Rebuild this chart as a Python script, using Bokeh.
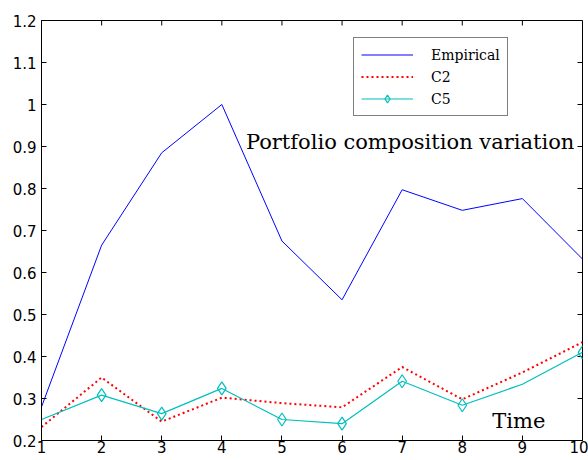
import math
from bokeh.plotting import figure
from bokeh.models import Legend, LegendItem, FixedTicker, Range1d
from bokeh.core.properties import value
from bokeh.embed import file_html
from bokeh.resources import INLINE

time = [1, 2, 3, 4, 5, 6, 7, 8, 9, 10]
empirical = [0.28, 0.665, 0.885, 1.0, 0.675, 0.535, 0.797, 0.748, 0.776, 0.632]
c2 = [0.232, 0.35, 0.245, 0.302, 0.289, 0.279, 0.375, 0.298, 0.362, 0.434]
c5 = [0.25, 0.308, 0.264, 0.324, 0.25, 0.240, 0.341, 0.284, 0.334, 0.41]
c5_marker_x = [2, 3, 4, 5, 6, 7, 8, 10]
x_ticks = [1, 2, 3, 4, 5, 6, 7, 8, 9, 10]
y_ticks = [0.2, 0.3, 0.4, 0.5, 0.6, 0.7, 0.8, 0.9, 1.0, 1.1, 1.2]
y_tick_labels = ["0.2", "0.3", "0.4", "0.5", "0.6", "0.7", "0.8", "0.9", "1", "1.1", "1.2"]
annotations = ["Portfolio composition variation", "Time"]
ann_x = [4.40, 8.5]
ann_y = [0.911, 0.247]

c5_marker_y = [c5[time.index(t)] for t in c5_marker_x]

p = figure(width=588, height=460, output_backend="svg", toolbar_location=None,
           x_range=Range1d(x_ticks[0], x_ticks[-1]), y_range=Range1d(y_ticks[0], y_ticks[-1]),
           min_border_left=41, min_border_right=6, min_border_top=20, min_border_bottom=20)
p.background_fill_color = "white"
p.border_fill_color = "white"
p.outline_line_color = "black"
p.outline_line_width = 1
p.xgrid.visible = False
p.ygrid.visible = False

tick_font = "DejaVu Sans"
for ax in [p.xaxis[0], p.yaxis[0]]:
    ax.major_tick_in = 5
    ax.major_tick_out = 0
    ax.minor_tick_line_color = None
    ax.axis_line_color = "black"
    ax.major_label_text_font = tick_font
    ax.major_label_text_font_size = "15px"
    ax.major_label_text_color = "black"
p.xaxis[0].ticker = FixedTicker(ticks=x_ticks)
p.yaxis[0].ticker = FixedTicker(ticks=y_ticks)
p.yaxis[0].major_label_overrides = {t: s for t, s in zip(y_ticks, y_tick_labels)}
p.xaxis[0].major_label_standoff = 0
p.yaxis[0].major_label_standoff = 5

# inward ticks on the top and right edges of the frame
p.ray(x=x_ticks, y=[y_ticks[-1]] * len(x_ticks), length=5, length_units="screen",
      angle=-math.pi / 2, line_color="black", line_width=1)
p.ray(x=[x_ticks[-1]] * len(y_ticks), y=y_ticks, length=5, length_units="screen",
      angle=math.pi, line_color="black", line_width=1)

r_emp = p.line(time, empirical, line_color="#0000FF", line_width=1)
r_c2 = p.line(time, c2, line_color="#FF0000", line_width=2, line_dash="2 3")
r_c5 = p.line(time, c5, line_color="#00BFBF", line_width=1.2)
r_c5m = p.scatter(c5_marker_x, c5_marker_y, marker="diamond", size=13,
                  line_color="#00BFBF", fill_color=None, line_width=1.2)

p.text(x=ann_x, y=ann_y, text=annotations, text_font=value("DejaVu Serif"),
       text_font_size="21px", text_color="black", text_baseline="alphabetic",
       text_align="left")

legend = Legend(items=[LegendItem(label="Empirical", renderers=[r_emp]),
                       LegendItem(label="C2", renderers=[r_c2]),
                       LegendItem(label="C5", renderers=[r_c5, r_c5m])],
                location=(312, 324))
legend.border_line_color = "black"
legend.border_line_width = 1
legend.background_fill_color = "white"
legend.background_fill_alpha = 1
legend.padding = 7
legend.spacing = 3
legend.glyph_width = 52
legend.glyph_height = 19
legend.label_height = 19
legend.label_standoff = 18
legend.margin = 0
legend.label_text_font = "DejaVu Serif"
legend.label_text_font_size = "14px"
legend.label_text_color = "black"
p.add_layout(legend, "center")

open("out.html", "w").write(file_html(p, INLINE))
